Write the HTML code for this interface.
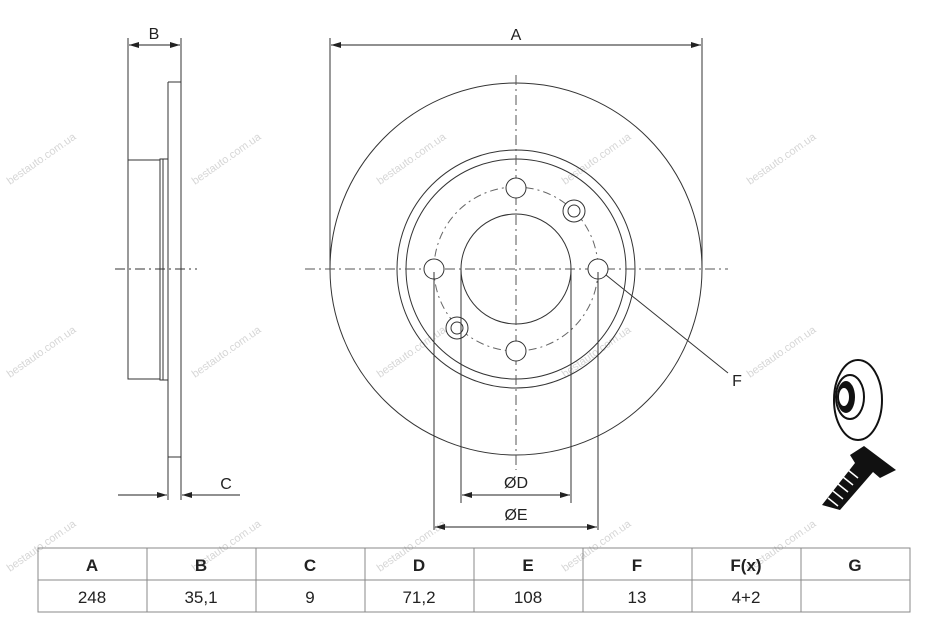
<!DOCTYPE html>
<html><head><meta charset="utf-8"><style>
html,body{margin:0;padding:0;background:#fff;}
svg{display:block}
</style></head><body>
<svg width="949" height="633" viewBox="0 0 949 633" xmlns="http://www.w3.org/2000/svg" font-family="Liberation Sans, sans-serif">
<defs>
<marker id="ar" viewBox="0 0 10 6" refX="10" refY="3" markerWidth="10" markerHeight="6" orient="auto-start-reverse" markerUnits="userSpaceOnUse"><path d="M0,0L10,3L0,6z" fill="#222"/></marker>
</defs>
<g fill="#d6d6d6" font-size="11">
<text transform="translate(10,185) rotate(-35)">bestauto.com.ua</text>
<text transform="translate(195,185) rotate(-35)">bestauto.com.ua</text>
<text transform="translate(380,185) rotate(-35)">bestauto.com.ua</text>
<text transform="translate(565,185) rotate(-35)">bestauto.com.ua</text>
<text transform="translate(750,185) rotate(-35)">bestauto.com.ua</text>
<text transform="translate(10,378) rotate(-35)">bestauto.com.ua</text>
<text transform="translate(195,378) rotate(-35)">bestauto.com.ua</text>
<text transform="translate(380,378) rotate(-35)">bestauto.com.ua</text>
<text transform="translate(565,378) rotate(-35)">bestauto.com.ua</text>
<text transform="translate(750,378) rotate(-35)">bestauto.com.ua</text>
<text transform="translate(10,572) rotate(-35)">bestauto.com.ua</text>
<text transform="translate(195,572) rotate(-35)">bestauto.com.ua</text>
<text transform="translate(380,572) rotate(-35)">bestauto.com.ua</text>
<text transform="translate(565,572) rotate(-35)">bestauto.com.ua</text>
<text transform="translate(750,572) rotate(-35)">bestauto.com.ua</text>
</g>
<g stroke="#333" stroke-width="1" fill="none">
<line x1="128" y1="38" x2="128" y2="160"/>
<line x1="181" y1="38" x2="181" y2="500"/>
<line x1="168" y1="82" x2="168" y2="500"/>
<line x1="168" y1="82" x2="181" y2="82"/>
<line x1="168" y1="457" x2="181" y2="457"/>
<rect x="128" y="160" width="32" height="219"/>
<rect x="160" y="159" width="8" height="221"/>
<line x1="163" y1="159" x2="163" y2="380"/>
<line x1="129" y1="45" x2="180" y2="45" stroke="#222" marker-start="url(#ar)" marker-end="url(#ar)"/>
<line x1="118" y1="495" x2="167" y2="495" stroke="#222" marker-end="url(#ar)"/>
<line x1="240" y1="495" x2="182" y2="495" stroke="#222" marker-end="url(#ar)"/>
<line x1="115" y1="269" x2="197" y2="269" stroke-dasharray="10,4,2,4"/>
<line x1="330" y1="38" x2="330" y2="269"/>
<line x1="702" y1="38" x2="702" y2="269"/>
<line x1="331" y1="45" x2="701" y2="45" stroke="#222" marker-start="url(#ar)" marker-end="url(#ar)"/>
<circle cx="516" cy="269" r="186"/>
<circle cx="516" cy="269" r="119"/>
<circle cx="516" cy="269" r="110"/>
<circle cx="516" cy="269" r="55"/>
<circle cx="516" cy="269" r="82" stroke="#666" stroke-dasharray="8,4,2,4"/>
<line x1="305" y1="269" x2="728" y2="269" stroke="#555" stroke-dasharray="10,4,2,4"/>
<line x1="516" y1="75" x2="516" y2="470" stroke="#555" stroke-dasharray="10,4,2,4"/>
<circle cx="434" cy="269" r="10" fill="#fff"/>
<circle cx="598" cy="269" r="10" fill="#fff"/>
<circle cx="516" cy="188" r="10" fill="#fff"/>
<circle cx="516" cy="351" r="10" fill="#fff"/>
<circle cx="574" cy="211" r="11" fill="#fff"/><circle cx="574" cy="211" r="6"/>
<circle cx="457" cy="328" r="11" fill="#fff"/><circle cx="457" cy="328" r="6"/>
<line x1="434" y1="272" x2="434" y2="530"/>
<line x1="598" y1="272" x2="598" y2="530"/>
<line x1="461" y1="269" x2="461" y2="503"/>
<line x1="571" y1="269" x2="571" y2="503"/>
<line x1="462" y1="495" x2="570" y2="495" stroke="#222" marker-start="url(#ar)" marker-end="url(#ar)"/>
<line x1="435" y1="527" x2="597" y2="527" stroke="#222" marker-start="url(#ar)" marker-end="url(#ar)"/>
<line x1="606" y1="275" x2="728" y2="373"/>
</g>
<g font-size="16" fill="#222" text-anchor="middle">
<text x="154" y="39">B</text>
<text x="516" y="40">A</text>
<text x="226" y="489">C</text>
<text x="737" y="386">F</text>
<text x="516" y="488">ØD</text>
<text x="516" y="520">ØE</text>
</g>
<g>
<ellipse cx="858" cy="400" rx="24" ry="40" fill="#fff" stroke="#111" stroke-width="2"/>
<ellipse cx="850" cy="397" rx="14" ry="22" fill="#fff" stroke="#111" stroke-width="2"/>
<ellipse cx="846" cy="397" rx="9" ry="16" fill="#111"/>
<ellipse cx="844" cy="397" rx="5" ry="9" fill="#fff"/>
<polygon points="864,446 896,470 880,478 873,472 840,510 822,505 855,463 850,455" fill="#111"/>
<g stroke="#fff" stroke-width="1.5">
<line x1="848" y1="470" x2="858" y2="478"/><line x1="843" y1="477" x2="853" y2="485"/><line x1="838" y1="484" x2="848" y2="492"/><line x1="833" y1="491" x2="843" y2="499"/><line x1="828" y1="498" x2="838" y2="506"/>
</g>
</g>
<g stroke="#888" stroke-width="1" fill="none">
<rect x="38" y="548" width="872" height="64"/>
<line x1="38" y1="580" x2="910" y2="580"/>
<line x1="147" y1="548" x2="147" y2="612"/><line x1="256" y1="548" x2="256" y2="612"/><line x1="365" y1="548" x2="365" y2="612"/><line x1="474" y1="548" x2="474" y2="612"/><line x1="583" y1="548" x2="583" y2="612"/><line x1="692" y1="548" x2="692" y2="612"/><line x1="801" y1="548" x2="801" y2="612"/>
</g>
<g font-size="17" fill="#222" text-anchor="middle" font-weight="bold">
<text x="92" y="571">A</text><text x="201" y="571">B</text><text x="310" y="571">C</text><text x="419" y="571">D</text><text x="528" y="571">E</text><text x="637" y="571">F</text><text x="746" y="571">F(x)</text><text x="855" y="571">G</text>
</g>
<g font-size="17" fill="#222" text-anchor="middle">
<text x="92" y="603">248</text><text x="201" y="603">35,1</text><text x="310" y="603">9</text><text x="419" y="603">71,2</text><text x="528" y="603">108</text><text x="637" y="603">13</text><text x="746" y="603">4+2</text>
</g>
</svg>
</body></html>
